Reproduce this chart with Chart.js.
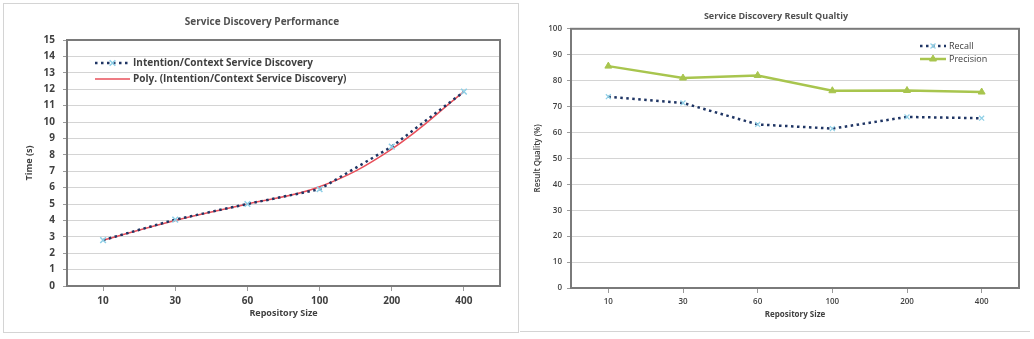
<!DOCTYPE html>
<html>
<head>
<meta charset="utf-8">
<script src="https://cdn.jsdelivr.net/npm/chart.js@4.4.1/dist/chart.umd.min.js"></script>
<style>
  html, body { margin: 0; padding: 0; background: #fff; }
  #wrap { position: relative; width: 1034px; height: 339px; overflow: hidden; }
  .frame { position: absolute; border: 1px solid #d4d4d4; }
  .box { position: absolute; top: 0; height: 339px; }
  #perfBox { left: 0; width: 520px; }
  #qualBox { left: 520px; width: 514px; }
</style>
</head>
<body>
<div id="wrap">
  <div class="frame" style="left:3px;top:3px;width:514px;height:328px;"></div>
  <div class="frame" style="left:520px;top:-2px;width:510px;height:333px;border-top:none;border-right:none;border-left:none;"></div>
  <div class="box" id="perfBox"><canvas id="perf"></canvas></div>
  <div class="box" id="qualBox"><canvas id="quality"></canvas></div>
</div>
<script>
// data
const sizes = ['10', '30', '60', '100', '200', '400'];
const discoveryTime = [2.8, 4.05, 5.0, 5.9, 8.5, 11.85];
const polyTime = [2.8, 4.0, 5.0, 6.05, 8.35, 11.85];
const recall = [73.8, 71.4, 63.1, 61.5, 66.0, 65.5];
const precision = [85.6, 81.0, 82.0, 76.1, 76.2, 75.6];

Chart.defaults.font.family = "'Open Sans', 'Liberation Sans', sans-serif";
Chart.defaults.color = '#4a4a4a';

// legend drawn inside the plot, like the Excel original
const insideLegend = {
  id: 'insideLegend',
  afterDatasetsDraw(chart, args, opts) {
    if (!opts || !opts.show) return;
    const ctx = chart.ctx;
    ctx.save();
    chart.data.datasets.forEach((ds, i) => {
      const y = opts.y + i * opts.rowH;
      const x0 = opts.x, x1 = opts.x + opts.lineLen;
      ctx.strokeStyle = ds.borderColor;
      ctx.lineWidth = ds.borderWidth;
      ctx.setLineDash(ds.borderDash || []);
      ctx.beginPath();
      ctx.moveTo(x0, y);
      ctx.lineTo(x1, y);
      ctx.stroke();
      ctx.setLineDash([]);
      if (ds.pointRadius > 0) {
        ctx.strokeStyle = ds.pointBorderColor;
        ctx.fillStyle = ds.pointBackgroundColor;
        ctx.lineWidth = ds.pointBorderWidth || 1;
        Chart.helpers.drawPoint(ctx, { pointStyle: ds.pointStyle, radius: ds.pointRadius, borderWidth: ds.pointBorderWidth || 1, rotation: 0 }, (x0 + x1) / 2, y);
      }
      ctx.fillStyle = opts.color;
      ctx.font = opts.font;
      ctx.textBaseline = 'middle';
      ctx.textAlign = 'left';
      ctx.fillText(ds.label, x1 + 3, y);
    });
    ctx.restore();
  }
};

// box around the plot area
const plotFrame = {
  id: 'plotFrame',
  beforeDatasetsDraw(chart, args, opts) {
    const a = chart.chartArea;
    const ctx = chart.ctx;
    ctx.save();
    ctx.strokeStyle = opts.color || '#808080';
    ctx.lineWidth = opts.width || 2;
    ctx.strokeRect(a.left, a.top, a.right - a.left, a.bottom - a.top);
    ctx.restore();
  }
};

Chart.register(insideLegend, plotFrame);

const perfChart = new Chart(document.getElementById('perf'), {
  type: 'line',
  data: {
    labels: sizes,
    datasets: [{
      label: 'Intention/Context Service Discovery',
      data: discoveryTime,
      borderColor: '#1f3564',
      borderWidth: 2.5,
      borderDash: [2.5, 3.5],
      tension: 0,
      pointStyle: 'crossRot',
      pointRadius: 4,
      pointBorderWidth: 1.5,
      pointBorderColor: '#8ecfe6',
      pointBackgroundColor: '#8ecfe6'
    }, {
      label: 'Poly. (Intention/Context Service Discovery)',
      data: polyTime,
      borderColor: '#e8505b',
      borderWidth: 1.5,
      tension: 0.4,
      pointRadius: 0
    }]
  },
  options: {
    responsive: true,
    maintainAspectRatio: false,
    animation: false,
    events: [],
    layout: { padding: { left: 24, right: 20, top: 0, bottom: 20 } },
    plugins: {
      legend: { display: false },
      tooltip: { enabled: false },
      title: {
        display: true,
        text: 'Service Discovery Performance',
        color: '#505050',
        font: { size: 10, weight: 'bold' },
        padding: { top: 16, bottom: 12 }
      },
      insideLegend: { show: true, x: 95, y: 63, rowH: 16, lineLen: 35, color: '#404040', font: "bold 10px 'Open Sans', sans-serif" },
      plotFrame: { color: '#7a7a7a', width: 2 }
    },
    scales: {
      x: {
        offset: true,
        grid: { drawOnChartArea: false, tickLength: 5, color: '#9a9a9a' },
        border: { color: '#7a7a7a', width: 2 },
        ticks: { font: { size: 10, weight: 'bold' }, padding: 4, color: '#404040' },
        title: { display: true, text: 'Repository Size', font: { size: 9, weight: 'bold' }, padding: 0, color: '#404040' },
        afterFit: s => { s.height = 33; }
      },
      y: {
        min: 0,
        max: 15,
        ticks: { stepSize: 1, font: { size: 10, weight: 'bold' }, padding: 8, color: '#404040' },
        grid: { color: '#d4d4d4', tickLength: 4, tickColor: '#9a9a9a' },
        border: { color: '#7a7a7a', width: 2 },
        title: { display: true, text: 'Time (s)', font: { size: 9, weight: 'bold' }, padding: 0, color: '#404040' },
        afterFit: s => { s.width = 43; }
      }
    }
  }
});

const qualityChart = new Chart(document.getElementById('quality'), {
  type: 'line',
  data: {
    labels: sizes,
    datasets: [{
      label: 'Recall',
      data: recall,
      borderColor: '#1f3564',
      borderWidth: 2.5,
      borderDash: [2.5, 3.5],
      tension: 0,
      pointStyle: 'crossRot',
      pointRadius: 3.5,
      pointBorderWidth: 1.2,
      pointBorderColor: '#8ecfe6',
      pointBackgroundColor: '#8ecfe6'
    }, {
      label: 'Precision',
      data: precision,
      borderColor: '#a8c54e',
      borderWidth: 2.5,
      tension: 0,
      pointStyle: 'triangle',
      pointRadius: 4,
      pointBorderWidth: 1,
      pointBorderColor: '#a8c54e',
      pointBackgroundColor: '#a8c54e'
    }]
  },
  options: {
    responsive: true,
    maintainAspectRatio: false,
    animation: false,
    events: [],
    layout: { padding: { left: 13, right: 15, top: 0, bottom: 19 } },
    plugins: {
      legend: { display: false },
      tooltip: { enabled: false },
      title: {
        display: true,
        text: 'Service Discovery Result Qualtiy',
        color: '#505050',
        font: { size: 9, weight: 'bold' },
        padding: { top: 11, bottom: 7 }
      },
      insideLegend: { show: true, x: 400, y: 46, rowH: 13, lineLen: 26, color: '#404040', font: "9px 'Open Sans', sans-serif" },
      plotFrame: { color: '#7a7a7a', width: 2 }
    },
    scales: {
      x: {
        offset: true,
        grid: { drawOnChartArea: false, tickLength: 5, color: '#9a9a9a' },
        border: { color: '#7a7a7a', width: 2 },
        ticks: { font: { size: 8, weight: '600' }, padding: 4, color: '#404040' },
        title: { display: true, text: 'Repository Size', font: { size: 8, weight: 'bold' }, padding: 0, color: '#404040' },
        afterFit: s => { s.height = 32; }
      },
      y: {
        min: 0,
        max: 100,
        ticks: { stepSize: 10, font: { size: 8, weight: '600' }, padding: 5, color: '#404040' },
        grid: { color: '#d4d4d4', tickLength: 4, tickColor: '#9a9a9a' },
        border: { color: '#7a7a7a', width: 2 },
        title: { display: true, text: 'Result Quality (%)', font: { size: 8, weight: '600' }, padding: 0, color: '#404040' },
        afterFit: s => { s.width = 38; }
      }
    }
  }
});
</script>
</body>
</html>
